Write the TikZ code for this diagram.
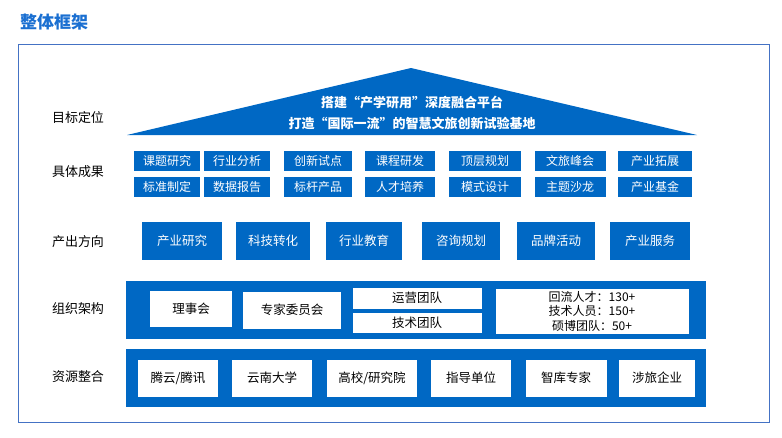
\documentclass[tikz,border=0pt]{standalone}
\usepackage{fontspec}
\setmainfont{Noto Sans CJK SC}
\usetikzlibrary{positioning}
\definecolor{FrameBlue}{HTML}{0068C4}
\definecolor{TitleBlue}{HTML}{1A6FD1}
\definecolor{LineBlue}{HTML}{4472C4}

\begin{document}
\begin{tikzpicture}[x=1pt, y=-1pt,
    label/.style={font=\fontsize{13}{15}\selectfont, text=black, inner sep=0pt},
    tag/.style={fill=FrameBlue, text=white, font=\fontsize{12}{14}\selectfont, inner sep=0pt, minimum height=20pt},
    outbox/.style={fill=FrameBlue, text=white, font=\fontsize{12.5}{14}\selectfont, inner sep=0pt, minimum height=38pt},
    band/.style={fill=FrameBlue, draw=none},
    wbox/.style={fill=white, text=black, font=\fontsize{12.5}{14}\selectfont, inner sep=0pt, align=center}
  ]
  \useasboundingbox (0,0) rectangle (782,437);

  % Title and frame
  \node[anchor=west, font=\bfseries\fontsize{17}{20}\selectfont, text=TitleBlue, inner sep=0pt] (title) at (20,22) {整体框架};
  \draw[LineBlue, line width=0.8pt] (18,44) rectangle (769,422);

  % Row labels
  \node[label] (goal) at (78,118) {目标定位};
  \node[label] (result) at (78,172) {具体成果};
  \node[label] (output) at (78,242) {产出方向};
  \node[label] (org) at (78,309) {组织架构};
  \node[label] (res) at (78,377) {资源整合};

  % Roof
  \fill[FrameBlue] (127,135) -- (411,68) -- (697,135) -- cycle;
  \node[text=white, font=\bfseries\fontsize{13}{21}\selectfont, align=center] (roof) at (412,113)
    {搭建“产学研用”深度融合平台\\打造“国际一流”的智慧文旅创新试验基地};

  % Achievements
  \foreach \cx/\w/\ta/\tb [count=\i] in {167/66/课题研究/标准制定, 237/66/行业分析/数据报告, 318/68/创新试点/标杆产品,
      400/70/课程研发/人才培养, 485/72/顶层规划/模式设计, 570/71/文旅峰会/主题沙龙, 655/74/产业拓展/产业基金} {
    \node[tag, minimum width=\w pt] (ta\i) at (\cx,161) {\ta};
    \node[tag, minimum width=\w pt] (tb\i) at (\cx,187) {\tb};
  }

  % Outputs
  \foreach \cx/\w/\t [count=\i] in {182/80/产业研究, 273/74/科技转化, 364/76/行业教育,
      461/78/咨询规划, 556/78/品牌活动, 650/80/产业服务} {
    \node[outbox, minimum width=\w pt] (out\i) at (\cx,241) {\t};
  }

  % Organisation
  \fill[band] (126,281) rectangle (706,339);
  \node[wbox, minimum width=82pt, minimum height=36pt] (board) at (191,309) {理事会};
  \node[wbox, minimum width=98pt, minimum height=37pt] (expert) at (292,310) {专家委员会};
  \node[wbox, minimum width=129pt, minimum height=21pt] (ops) at (417,298) {运营团队};
  \node[wbox, minimum width=129pt, minimum height=20pt] (tech) at (417,323) {技术团队};
  \node[wbox, minimum width=193pt, minimum height=45pt, font=\fontsize{12}{14.5}\selectfont] (staff) at (592,311)
    {回流人才：130+\\技术人员：150+\\硕博团队：50+};

  % Resources
  \fill[band] (126,349) rectangle (706,407);
  \foreach \cx/\w/\t [count=\i] in {178/80/{腾云/腾讯}, 272/80/云南大学, 372/90/{高校/研究院},
      471/80/指导单位, 566/81/智库专家, 657/76/涉旅企业} {
    \node[wbox, minimum width=\w pt, minimum height=37pt] (src\i) at (\cx,378) {\t};
  }
\end{tikzpicture}
\end{document}
